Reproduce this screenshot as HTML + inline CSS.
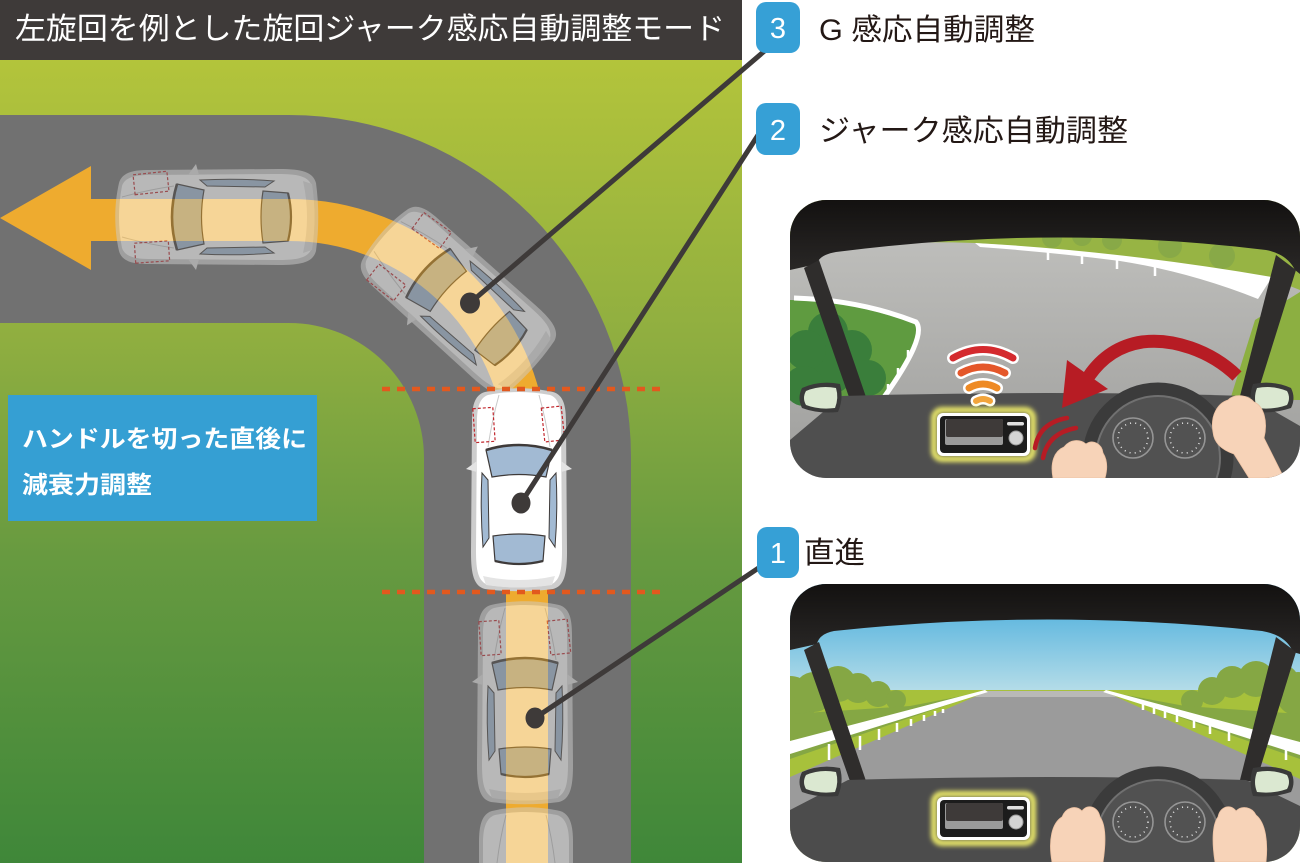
<!DOCTYPE html>
<html><head><meta charset="utf-8"><style>
html,body{margin:0;padding:0;background:#fff;width:1301px;height:863px;overflow:hidden;}
svg{display:block;overflow:hidden;}
.jp{font-family:"Liberation Sans","Noto Sans CJK JP",sans-serif;}
</style></head><body>
<svg width="1301" height="863" viewBox="0 0 1301 863" xmlns="http://www.w3.org/2000/svg">
<defs>
  <linearGradient id="grass" x1="0" y1="60" x2="0" y2="863" gradientUnits="userSpaceOnUse">
    <stop offset="0" stop-color="#b3c43b"/>
    <stop offset="0.35" stop-color="#8fae40"/>
    <stop offset="0.62" stop-color="#679a40"/>
    <stop offset="1" stop-color="#3f8739"/>
  </linearGradient>
  <linearGradient id="sky" x1="0" y1="0" x2="0" y2="1">
    <stop offset="0" stop-color="#3fa9dc"/>
    <stop offset="1" stop-color="#b6dde8"/>
  </linearGradient>
  <linearGradient id="road2" x1="0" y1="0" x2="0" y2="1">
    <stop offset="0" stop-color="#c3c3c0"/>
    <stop offset="1" stop-color="#9e9e9c"/>
  </linearGradient>
  <linearGradient id="roof" x1="0" y1="0" x2="0" y2="1">
    <stop offset="0" stop-color="#131110"/>
    <stop offset="1" stop-color="#2a2827"/>
  </linearGradient>
  <filter id="glow" x="-20%" y="-30%" width="140%" height="160%"><feGaussianBlur stdDeviation="2.5"/></filter>
  <clipPath id="cp"><rect x="0" y="0" width="510" height="278" rx="36" ry="36"/></clipPath>

  <g id="car">
    <path d="M -34,-98 C -12,-103 12,-103 34,-98 C 45,-95 47,-83 47,-68 L 48,62 C 48,85 45,96 34,99 C 12,102 -12,102 -34,99 C -45,96 -48,85 -48,62 L -47,-68 C -47,-83 -45,-95 -34,-98 Z" fill="#cdcdcd"/>
    <path d="M -31,-95 C -11,-99 11,-99 31,-95 C 40,-92 42,-81 42,-68 L 43,60 C 43,81 41,91 31,95 C 11,98 -11,98 -31,95 C -41,91 -43,81 -43,60 L -42,-68 C -42,-81 -40,-92 -31,-95 Z" fill="#ffffff"/>
    <path d="M -36,86 Q 0,94 36,86 L 33,95 Q 0,100 -33,95 Z" fill="#e4e4e4"/>
    <path d="M -42,-29 L -53,-21 L -42,-18 Z" fill="#e3e3e3"/>
    <path d="M 42,-29 L 53,-21 L 42,-18 Z" fill="#e3e3e3"/>
    <path d="M -20,-95 Q -27,-70 -31,-43 M 20,-95 Q 27,-70 31,-43" stroke="#c9c9c9" stroke-width="1" fill="none"/>
    <path d="M -33,-40 Q 0,-50 33,-40 L 27,-13 Q 0,-18 -27,-13 Z" fill="#a2bad3" stroke="#3e3a39" stroke-width="1.2"/>
    <path d="M -33,-40 Q 0,-50 33,-40" stroke="#3e3a39" stroke-width="2.6" fill="none"/>
    <path d="M -37,-17 L -31,-10 L -30,48 L -36,57 Q -39,20 -37,-17 Z" fill="#a2bad3" stroke="#3e3a39" stroke-width="1"/>
    <path d="M 37,-17 L 31,-10 L 30,48 L 36,57 Q 39,20 37,-17 Z" fill="#a2bad3" stroke="#3e3a39" stroke-width="1"/>
    <path d="M -26,46 Q 0,42 26,46 L 24,71 Q 0,77 -24,71 Z" fill="#a2bad3" stroke="#3e3a39" stroke-width="1.2"/>
    <path d="M -24,71 Q 0,77 24,71" stroke="#3e3a39" stroke-width="2.2" fill="none"/>
    <rect x="-45" y="-82" width="20" height="34" fill="none" stroke="#c1272d" stroke-width="1.2" stroke-dasharray="3 2" transform="rotate(-4 -35 -65)"/>
    <rect x="24" y="-83" width="20" height="34" fill="none" stroke="#c1272d" stroke-width="1.2" stroke-dasharray="3 2" transform="rotate(-6 34 -66)"/>
  </g>

  <g id="headunit">
    <rect x="144" y="210" width="99" height="49" rx="8" fill="none" stroke="#eeec6a" stroke-width="6" filter="url(#glow)"/>
    <rect x="147" y="213" width="93" height="43" rx="6" fill="#ffffff"/>
    <rect x="150" y="216" width="87" height="37" rx="4" fill="#1c1c1c"/>
    <rect x="155" y="219" width="58" height="26" rx="2" fill="#9a9a9a"/>
    <rect x="156" y="219" width="57" height="18" rx="2" fill="#3e3a39"/>
    <circle cx="226" cy="238" r="7" fill="#d4d4d4" stroke="#9a9a9a" stroke-width="1"/>
    <rect x="217" y="222" width="17" height="3.5" rx="1.7" fill="#e0e0e0"/>
  </g>

  <g id="gauges">
    <circle cx="343" cy="238" r="20" fill="#525252" stroke="#959595" stroke-width="1.6"/>
    <circle cx="343" cy="238" r="15" fill="none" stroke="#e8e8e8" stroke-width="1.5" stroke-dasharray="1 4.2"/>
    <circle cx="395" cy="238" r="20" fill="#525252" stroke="#959595" stroke-width="1.6"/>
    <circle cx="395" cy="238" r="15" fill="none" stroke="#e8e8e8" stroke-width="1.5" stroke-dasharray="1 4.2"/>
  </g>

  <g id="mirrors">
    <path d="M 12,188 Q 30,180 50,184 Q 54,198 48,212 Q 28,214 12,208 Q 7,198 12,188 Z" fill="#3a3a3a"/>
    <path d="M 16,191 Q 30,185 46,188 Q 49,198 45,208 Q 29,210 16,205 Q 12,198 16,191 Z" fill="#dbe8d1"/>
    <path d="M 463,184 Q 483,180 501,188 Q 506,198 501,208 Q 483,214 463,212 Q 458,198 463,184 Z" fill="#3a3a3a"/>
    <path d="M 467,188 Q 483,185 497,191 Q 501,198 497,205 Q 483,210 467,208 Q 463,198 467,188 Z" fill="#dbe8d1"/>
  </g>
</defs>

<!-- LEFT PANEL -->
<rect x="0" y="0" width="742" height="863" fill="url(#grass)"/>
<path d="M 0,115 L 289,115 A 342 342 0 0 1 631,457 L 631,863 L 424,863 L 424,458 A 135 135 0 0 0 289,323 L 0,323 Z" fill="#717171"/>

<path d="M 88,220 L 289,220 A 238 238 0 0 1 527,458 L 527,863" fill="none" stroke="#eeab2f" stroke-width="42"/>
<polygon points="0,218 91,166 91,270" fill="#eeab2f"/>

<use href="#car" transform="translate(217,217) rotate(-90)" opacity="0.5"/>
<use href="#car" transform="translate(458,300) rotate(-48)" opacity="0.5"/>
<use href="#car" transform="translate(525,703)" opacity="0.5"/>
<!-- partial bottom car -->
<g opacity="0.5">
  <path d="M 479,863 L 479,842 C 479,825 482,814 492,811 C 514,806 538,806 560,811 C 570,814 573,825 573,842 L 573,863 Z" fill="#cdcdcd"/>
  <path d="M 483,863 L 483,843 C 483,828 486,818 495,815 C 515,811 537,811 557,815 C 566,818 569,828 569,843 L 569,863 Z" fill="#ffffff"/>
  <path d="M 506,815 Q 500,838 497,863 M 546,815 Q 552,838 555,863" stroke="#c9c9c9" stroke-width="1" fill="none"/>
</g>
<use href="#car" transform="translate(519,490)"/>

<line x1="382" y1="389" x2="664" y2="389" stroke="#e2591e" stroke-width="4.5" stroke-dasharray="8 7"/>
<line x1="382" y1="592" x2="664" y2="592" stroke="#e2591e" stroke-width="4.5" stroke-dasharray="8 7"/>

<rect x="8" y="395" width="309" height="126" fill="#359fd3"/>
<text class="jp" x="22" y="447" font-size="24" font-weight="bold" fill="#fff" textLength="285" lengthAdjust="spacingAndGlyphs">ハンドルを切った直後に</text>
<text class="jp" x="22" y="493" font-size="24" font-weight="bold" fill="#fff" textLength="130" lengthAdjust="spacingAndGlyphs">減衰力調整</text>

<rect x="0" y="0" width="742" height="60" fill="#3e3a39"/>
<text class="jp" x="15" y="39" font-size="30" fill="#ffffff" textLength="710" lengthAdjust="spacingAndGlyphs">左旋回を例とした旋回ジャーク感応自動調整モード</text>

<g stroke="#3e3a39" stroke-width="5" stroke-linecap="round">
  <line x1="470" y1="303" x2="768" y2="48"/>
  <line x1="521" y1="503" x2="760" y2="132"/>
  <line x1="535" y1="718" x2="766" y2="563"/>
</g>
<g fill="#3e3a39">
  <ellipse cx="470" cy="303" rx="10" ry="10.5"/>
  <ellipse cx="521" cy="503" rx="9.5" ry="10.5"/>
  <ellipse cx="535" cy="718" rx="9.5" ry="10.5"/>
</g>

<rect x="756" y="2" width="44" height="51" rx="10" fill="#36a0d6"/>
<text x="778" y="38" font-family="Liberation Sans, sans-serif" font-size="29" fill="#fff" text-anchor="middle">3</text>
<text class="jp" x="819" y="40" font-size="30" fill="#231815" textLength="216" lengthAdjust="spacingAndGlyphs">G 感応自動調整</text>

<rect x="756" y="103" width="44" height="52" rx="10" fill="#36a0d6"/>
<text x="778" y="140" font-family="Liberation Sans, sans-serif" font-size="29" fill="#fff" text-anchor="middle">2</text>
<text class="jp" x="819" y="141" font-size="30" fill="#231815" textLength="309" lengthAdjust="spacingAndGlyphs">ジャーク感応自動調整</text>

<rect x="757" y="527" width="42" height="51" rx="10" fill="#36a0d6"/>
<text x="778" y="563" font-family="Liberation Sans, sans-serif" font-size="29" fill="#fff" text-anchor="middle">1</text>
<text class="jp" x="804" y="563" font-size="30" fill="#231815" textLength="61" lengthAdjust="spacingAndGlyphs">直進</text>

<!-- PANEL 2 : jerk -->
<g transform="translate(790,200)" clip-path="url(#cp)">
  <rect x="0" y="0" width="510" height="278" fill="url(#road2)"/>
  <path d="M0,0 H510 V90 L482,79 Q330,52 185,43 Q90,40 0,50 Z" fill="#97b444"/>
  <circle cx="262" cy="38" r="10" fill="#88a947"/>
  <circle cx="292" cy="36" r="10" fill="#88a947"/>
  <circle cx="322" cy="40" r="10" fill="#88a947"/>
  <circle cx="380" cy="46" r="12" fill="#88a947"/>
  <circle cx="432" cy="56" r="13" fill="#88a947"/>
  <path d="M 185,43 Q 330,51 482,77 L 468,99 Q 400,72 330,61 Q 260,52 190,47 Z" fill="#ffffff"/>
  <g stroke="#fff" stroke-width="2.5">
    <line x1="258" y1="52" x2="258" y2="60"/>
    <line x1="292" y1="56" x2="292" y2="64"/>
    <line x1="327" y1="60" x2="327" y2="69"/>
    <line x1="365" y1="66" x2="365" y2="76"/>
  </g>
  <polygon points="440,200 465,120 510,92 510,200" fill="#8caf41"/>
  <path d="M 0,100 Q 60,100 125,124 Q 138,138 90,200 L 0,200 Z" fill="#5f9b40"/>
  <g fill="#3a7e3b">
    <circle cx="38" cy="132" r="20"/><circle cx="62" cy="150" r="20"/><circle cx="40" cy="170" r="24"/>
    <circle cx="16" cy="150" r="20"/><circle cx="78" cy="178" r="18"/><circle cx="14" cy="186" r="20"/>
  </g>
  <path d="M 4,98 Q 70,100 126,122 Q 138,136 92,200" fill="none" stroke="#fff" stroke-width="5"/>
  <g stroke="#fff" stroke-width="2.5">
    <line x1="118" y1="150" x2="118" y2="160"/><line x1="108" y1="168" x2="108" y2="178"/><line x1="98" y1="184" x2="98" y2="194"/>
  </g>
  <path d="M0,0 H510 V74 L505,70 Q497,54 476,50 Q262,24 46,52 Q29,55 27,64 L0,70 Z" fill="url(#roof)"/>
  <polygon points="14,68 29,60 76,197 60,200" fill="#2f2d2c"/>
  <polygon points="486,55 506,70 466,198 450,196" fill="#2f2d2c"/>
  <path d="M 0,240 L 52,196 Q 260,190 458,196 L 510,226 V 278 H 0 Z" fill="#4f4f4f"/>
  <use href="#mirrors"/>
  <g fill="none" stroke-linecap="round">
    <path d="M 163,158 Q 193,141 223,158" stroke="#fff" stroke-width="12"/>
    <path d="M 163,158 Q 193,141 223,158" stroke="#d42a2e" stroke-width="7"/>
    <path d="M 171,173 Q 193,161 215,173" stroke="#fff" stroke-width="12"/>
    <path d="M 171,173 Q 193,161 215,173" stroke="#e4572a" stroke-width="7"/>
    <path d="M 179,188 Q 193,180 207,188" stroke="#fff" stroke-width="12"/>
    <path d="M 179,188 Q 193,180 207,188" stroke="#ee8a24" stroke-width="7"/>
    <path d="M 186,201 Q 193,197 200,201" stroke="#fff" stroke-width="11"/>
    <path d="M 186,201 Q 193,197 200,201" stroke="#f2a43b" stroke-width="6"/>
  </g>
  <use href="#headunit"/>
  <path d="M 447,176 C 420,150 382,138 352,142 C 326,146 310,160 299,176" fill="none" stroke="#b71c24" stroke-width="13"/>
  <polygon points="272,208 277,160 318,189" fill="#b71c24"/>
  <path d="M 245,248 Q 249,223 277,218" fill="none" stroke="#b71c24" stroke-width="4.5" stroke-linecap="round"/>
  <path d="M 253,258 Q 258,233 286,228" fill="none" stroke="#b71c24" stroke-width="4.5" stroke-linecap="round"/>
  <circle cx="368" cy="258" r="62" fill="#515151"/>
  <circle cx="368" cy="258" r="69" fill="none" stroke="#3b3b3b" stroke-width="13"/>
  <circle cx="368" cy="258" r="62" fill="none" stroke="#707070" stroke-width="2"/>
  <use href="#gauges"/>
  <path d="M 263,278 C 260,263 264,251 274,247 C 280,239 290,239 296,244 C 303,239 312,244 313,253 C 318,261 317,271 315,278 Z" fill="#f7d3b8" stroke="#ecc1a2" stroke-width="0.8"/>
  <path d="M 423,232 C 420,215 428,203 438,200 C 445,193 458,195 464,202 C 474,206 478,222 474,238 L 494,278 L 459,278 L 444,254 C 432,250 424,243 423,232 Z" fill="#f7d3b8" stroke="#ecc1a2" stroke-width="0.8"/>
</g>

<!-- PANEL 1 : straight -->
<g transform="translate(790,584)" clip-path="url(#cp)">
  <rect x="0" y="0" width="510" height="108" fill="url(#sky)"/>
  <rect x="0" y="106" width="510" height="172" fill="#a7c13b"/>
  <g fill="#85a744">
    <circle cx="0" cy="118" r="26"/><circle cx="24" cy="108" r="20"/><circle cx="48" cy="100" r="18"/>
    <circle cx="68" cy="104" r="15"/><circle cx="88" cy="110" r="13"/><circle cx="106" cy="116" r="10"/>
    <circle cx="402" cy="117" r="11"/><circle cx="422" cy="107" r="14"/><circle cx="442" cy="98" r="16"/>
    <circle cx="466" cy="95" r="18"/><circle cx="490" cy="100" r="20"/><circle cx="508" cy="110" r="22"/>
  </g>
  <polygon points="0,130 120,122 198,107 0,175" fill="#85a744"/>
  <polygon points="510,130 395,122 314,107 510,175" fill="#85a744"/>
  <polygon points="198,107 313,107 510,195 510,278 0,278 0,193" fill="#9b9b9b"/>
  <polygon points="198,107 313,107 327,113 184,113" fill="#b9b9b7"/>
  <path d="M 195,106 L 0,157 L 0,170 L 198,108 Z" fill="#ffffff"/>
  <path d="M 316,106 L 510,158 L 510,171 L 313,108 Z" fill="#ffffff"/>
  <g stroke="#fff" stroke-width="2.5">
    <line x1="39" y1="160" x2="39" y2="176"/><line x1="70" y1="152" x2="70" y2="166"/><line x1="89" y1="145" x2="89" y2="156"/>
    <line x1="107" y1="139" x2="107" y2="148"/><line x1="121" y1="135" x2="121" y2="142"/><line x1="134" y1="131" x2="134" y2="137"/>
    <line x1="145" y1="127" x2="145" y2="132"/><line x1="153" y1="125" x2="153" y2="129"/>
    <line x1="353" y1="119" x2="353" y2="126"/><line x1="364" y1="122" x2="364" y2="130"/><line x1="375" y1="125" x2="375" y2="134"/>
    <line x1="387" y1="128" x2="387" y2="138"/><line x1="404" y1="133" x2="404" y2="144"/><line x1="420" y1="137" x2="420" y2="150"/>
    <line x1="439" y1="142" x2="439" y2="157"/><line x1="466" y1="150" x2="466" y2="167"/><line x1="496" y1="158" x2="496" y2="176"/>
  </g>
  <path d="M0,0 H510 V70 L503,68 Q496,51 472,47 Q257,24 44,47 Q29,50 27,60 L0,66 Z" fill="url(#roof)"/>
  <polygon points="14,66 29,58 76,197 61,200" fill="#2f2d2c"/>
  <polygon points="486,53 506,68 466,198 450,196" fill="#2f2d2c"/>
  <path d="M 0,226 L 58,196 Q 260,190 456,196 L 510,222 V 278 H 0 Z" fill="#4c4c4c"/>
  <use href="#mirrors"/>
  <use href="#headunit"/>
  <!-- wheel (truncated at panel bottom) -->
  <path d="M 309.3,278 A 62 62 0 1 1 426.7,278 Z" fill="#515151"/>
  <path d="M 302,278 A 69 69 0 1 1 434,278" fill="none" stroke="#3b3b3b" stroke-width="13"/>
  <path d="M 309.3,278 A 62 62 0 1 1 426.7,278" fill="none" stroke="#707070" stroke-width="2"/>
  <use href="#gauges"/>
  <path d="M 262,278 C 258,256 262,239 272,233 C 276,223 286,221 292,227 C 298,219 308,223 310,233 C 316,241 316,259 313,278 Z" fill="#f7d3b8" stroke="#ecc1a2" stroke-width="0.8"/>
  <path d="M 425,278 C 422,259 422,241 428,233 C 430,223 440,219 446,227 C 452,221 462,223 466,231 C 476,239 478,259 476,278 Z" fill="#f7d3b8" stroke="#ecc1a2" stroke-width="0.8"/>
</g>
</svg>
</body></html>
